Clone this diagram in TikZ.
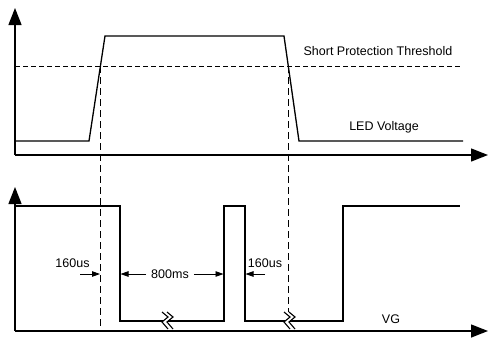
\documentclass[tikz,border=0pt]{standalone}
\usepackage{fontspec}
\setmainfont{Liberation Sans}
\usetikzlibrary{arrows.meta}
\begin{document}
\begin{tikzpicture}[x=1pt,y=-1pt,
  axis/.style={line width=1.4pt,-{Triangle[width=13pt,length=17pt]}},
  sig/.style={line width=1.3pt,line join=miter},
  thr/.style={line width=0.8pt,dash pattern=on 5pt off 3pt},
  mark line/.style={line width=0.8pt,dash pattern=on 7pt off 4pt},
  dim/.style={line width=0.9pt,-{Triangle[width=5.5pt,length=8pt]}},
  lbl/.style={inner sep=0pt,anchor=base,font=\fontsize{12.5}{14}\selectfont},
  brk/.style={line width=1.1pt}]
\useasboundingbox (0,0) rectangle (488,338);
\fill[white] (0,0) rectangle (488,338);
% ---- top graph ----
\coordinate (o1) at (15,155);
\coordinate (y1) at (15,8);
\coordinate (x1) at (488,155);
\draw[axis] (o1) -- (y1);
\draw[axis] (o1) -- (x1);
\draw[thr] (15,66) -- (462,66);
\draw[sig] (15,141) -- (89,141) -- (105,36) -- (284,36) -- (299,141) -- (463,141);
\node[lbl] (spt) at (378,55) {Short Protection Threshold};
\node[lbl] (led) at (384,130) {LED Voltage};
% ---- vertical markers ----
\coordinate (m1t) at (100.4,66);
\coordinate (m1b) at (100.4,328);
\coordinate (m2t) at (288.3,66);
\coordinate (m2b) at (288.3,330);
\draw[mark line] (m1t) -- (m1b);
\draw[mark line] (m2t) -- (m2b);
% ---- bottom graph ----
\coordinate (o2) at (15,331);
\coordinate (y2) at (15,187);
\coordinate (x2) at (488,331);
\draw[axis] (o2) -- (y2);
\draw[axis] (o2) -- (x2);
\draw[sig] (15,206) -- (120,206) -- (120,321) -- (224,321) -- (224,206) -- (245,206)
  -- (245,321) -- (343,321) -- (343,206) -- (460,206);
% break symbols
\foreach \bx in {162,284}{
  \fill[white] (\bx,312) -- (\bx+6,317) -- (\bx,322) -- (\bx+6,329) -- (\bx+11,329) -- (\bx+5,322) -- (\bx+11,317) -- (\bx+5,312) -- cycle;
  \draw[brk] (\bx,312) -- (\bx+6,317) -- (\bx,322) -- (\bx+6,329);
  \draw[brk] (\bx+5,312) -- (\bx+11,317) -- (\bx+5,322) -- (\bx+11,329);
}
\node[lbl] (vg) at (391,323) {VG};
% dimension labels
\node[lbl] (t1) at (72.5,267) {160us};
\coordinate (a1s) at (80,274);
\coordinate (a1e) at (100,274);
\draw[dim] (a1s) -- (a1e);
\node[lbl,inner xsep=5pt] (t2) at (170,278) {800ms};
\coordinate (a2l) at (120.5,274);
\coordinate (a2r) at (223.5,274);
\draw[dim] (t2.west |- a2l) -- (a2l);
\draw[dim] (t2.east |- a2r) -- (a2r);
\node[lbl] (t3) at (265,267) {160us};
\coordinate (a3s) at (265,274);
\coordinate (a3e) at (245.5,274);
\draw[dim] (a3s) -- (a3e);
\end{tikzpicture}
\end{document}
